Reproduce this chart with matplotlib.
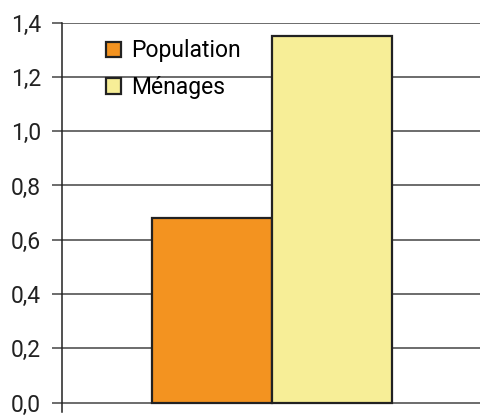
import matplotlib
matplotlib.use("Agg")

import matplotlib.pyplot as plt
from matplotlib.patches import Patch

plt.rcParams["font.family"] = ["Roboto", "DejaVu Sans"]

categories = ["Population", "Ménages"]
values = [0.68, 1.35]
colors = ["#F39320", "#F7EE97"]
yticks = [0.0, 0.2, 0.4, 0.6, 0.8, 1.0, 1.2, 1.4]

fig = plt.figure(figsize=(4.81, 4.16), dpi=100)
ax = fig.add_axes([62 / 481, 1 - 412 / 416, 1 - 62 / 481, (412 - 22.7) / 416])

ax.bar([0, 1], values, width=1.0, color=colors, edgecolor="#222222",
       linewidth=1.6, zorder=3)

ax.set_ylim(-0.035, 1.4)
ax.set_xlim(-1.25, 2.24)
ax.set_yticks(yticks)
ax.set_yticklabels([f"{v:.1f}".replace(".", ",") for v in yticks], fontsize=16.5,
                   color="#222222")
ax.set_xticks([])
for y in yticks:
    ax.axhline(y, color="#444444", linewidth=1.1, zorder=1)

for s in ["top", "right", "bottom"]:
    ax.spines[s].set_visible(False)
ax.spines["left"].set_color("#222222")
ax.spines["left"].set_linewidth(1.1)
ax.tick_params(axis="y", length=7, width=1.1, color="#444444", pad=8)

handles = [Patch(facecolor=c, edgecolor="#222222", linewidth=1.6, label=l)
           for c, l in zip(colors, categories)]
ax.legend(handles=handles, loc="upper left", bbox_to_anchor=(0.055, 1.01),
          frameon=False, fontsize=16.5, handlelength=0.65, handleheight=0.65,
          handletextpad=0.45, labelspacing=0.6)

plt.savefig("out.png", dpi=100)
plt.close()
